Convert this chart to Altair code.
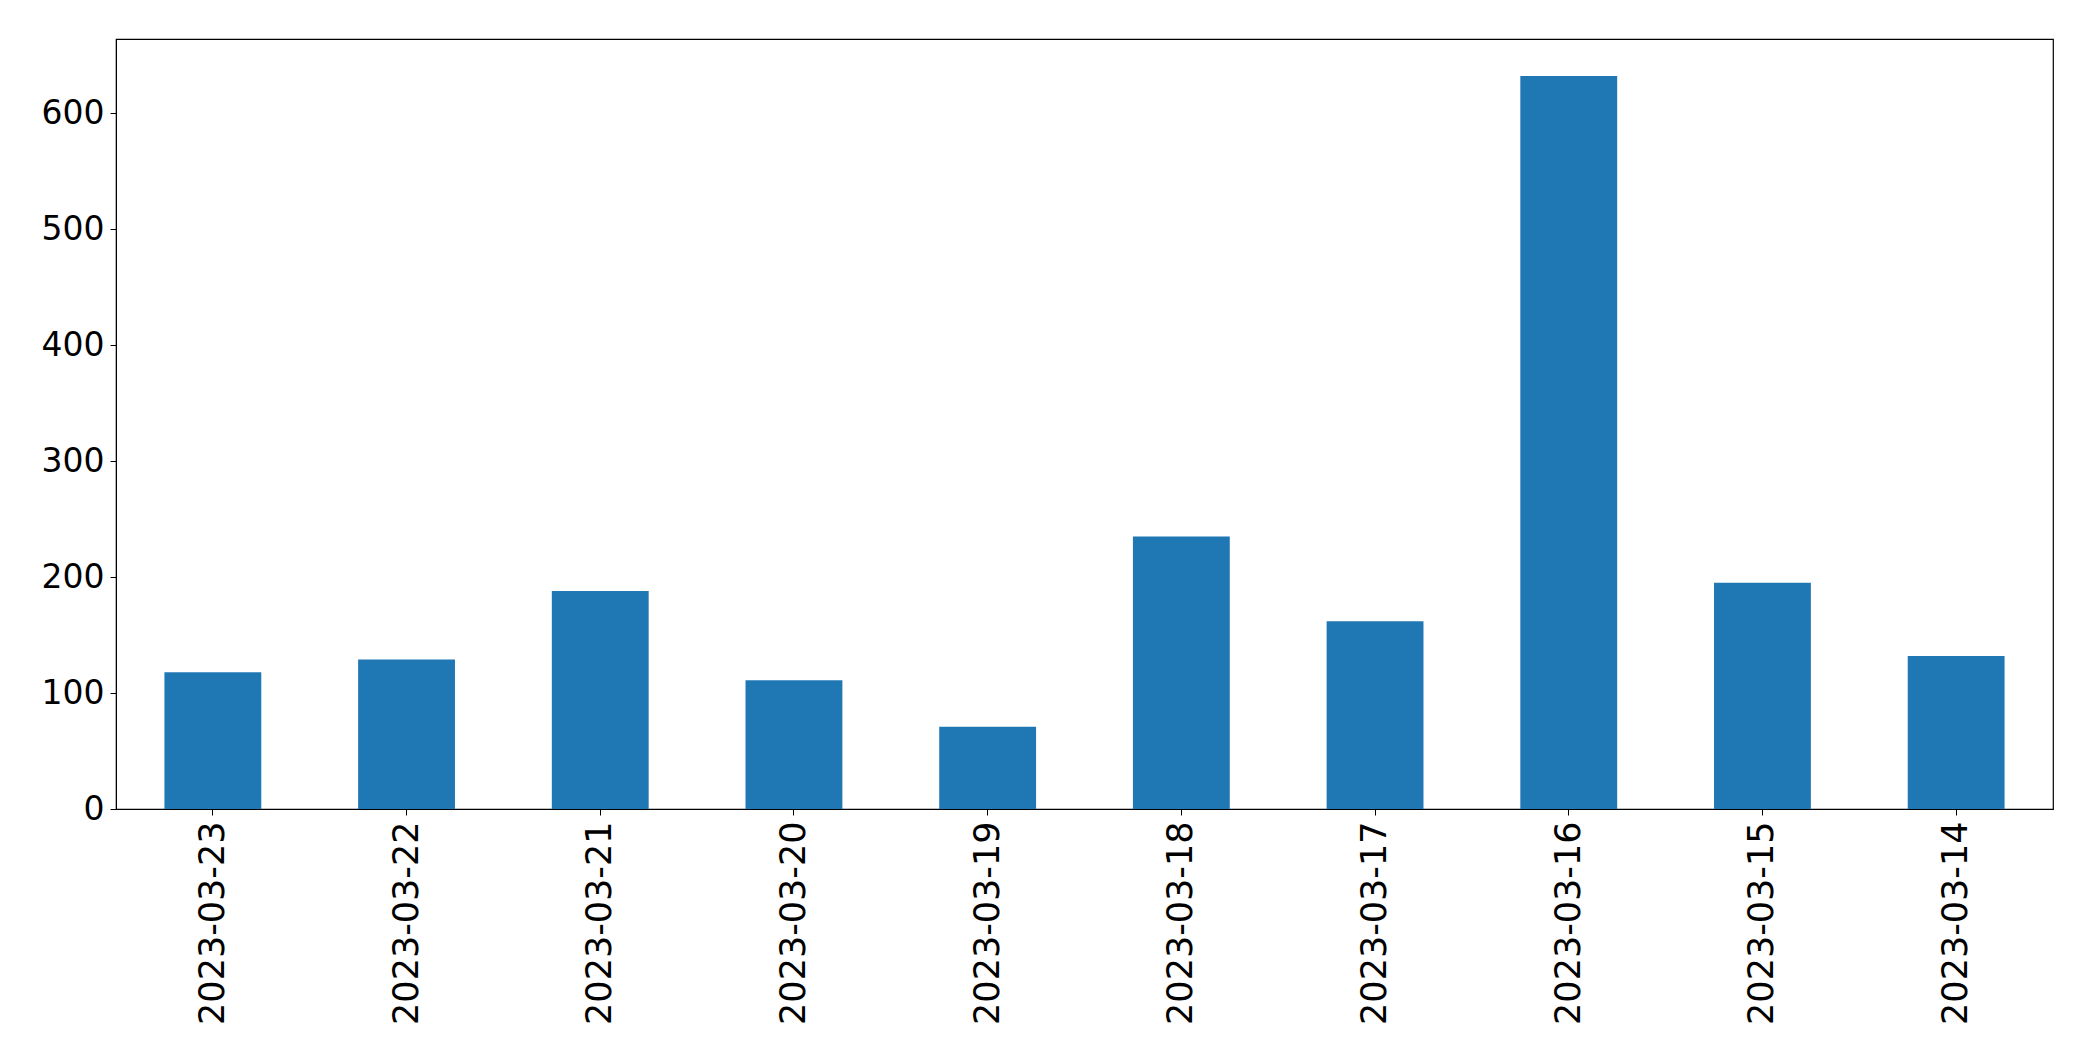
import altair as alt
import pandas as pd

dates = ["2023-03-23", "2023-03-22", "2023-03-21", "2023-03-20", "2023-03-19",
         "2023-03-18", "2023-03-17", "2023-03-16", "2023-03-15", "2023-03-14"]
counts = [118, 129, 188, 111, 71, 235, 162, 632, 195, 132]
y_ticks = [0, 100, 200, 300, 400, 500, 600]

df = pd.DataFrame({"date": dates, "count": counts})

chart = alt.Chart(df).mark_bar(color="#1f77b4").encode(
    x=alt.X("date:N", sort=dates, title=None,
            scale=alt.Scale(paddingInner=0.5, paddingOuter=0.25),
            axis=alt.Axis(labelAngle=-90, labelFontSize=35, labelFont="DejaVu Sans",
                          labelColor="black", tickColor="black", domainColor="black",
                          tickSize=6, labelPadding=6, domainWidth=1, labelLimit=400,
                          labelOverlap=False)),
    y=alt.Y("count:Q", title=None,
            scale=alt.Scale(domain=[0, 664], nice=False, zero=True),
            axis=alt.Axis(values=y_ticks, grid=False, labelFontSize=33, labelFont="DejaVu Sans",
                          labelColor="black", tickColor="black", domainColor="black",
                          tickSize=6, labelPadding=6, domainWidth=1)),
).properties(
    width=1937, height=770,
    padding={"left": 108, "top": 31, "right": 20, "bottom": 230},
    autosize=alt.AutoSizeParams(type="none"),
).configure_view(stroke="black", strokeWidth=1.2)

chart.save("out.html", embed_options={"renderer": "svg", "actions": False})
